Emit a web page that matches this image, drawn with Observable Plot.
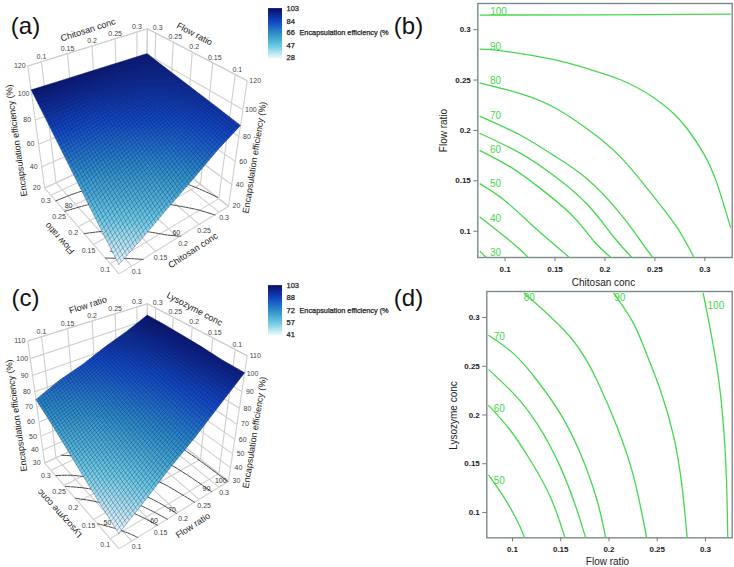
<!DOCTYPE html>
<html>
<head>
<meta charset="utf-8">
<script src="https://cdn.jsdelivr.net/npm/d3@7"></script>
<script src="https://cdn.jsdelivr.net/npm/@observablehq/plot@0.6"></script>
<style>
  body { margin: 0; background: white; }
  #fig { position: relative; width: 734px; height: 567px; overflow: hidden; }
  #fig svg { position: absolute; }
</style>
</head>
<body>
<div id="fig"></div>
<script>
// surface samples, rows = y factor, columns = x factor
const surfGrid = [0.075, 0.125, 0.175, 0.225, 0.275, 0.325];
const surfaceA = [
  [28.5, 40, 53, 65, 78, 88.5],
  [43, 55, 63, 73.5, 82.2, 91],
  [58, 66.5, 73.5, 81.5, 86.6, 93.3],
  [73, 78, 83.5, 87.5, 91, 95.7],
  [88, 90, 92, 94, 96, 98],
  [103, 102.5, 102, 101.5, 101, 100.5]
];
const surfaceC = [
  [41, 52.5, 65, 76, 88.5, 100.8],
  [47.5, 57.7, 68.4, 79, 90, 101],
  [54.5, 63.3, 72.5, 82.3, 92, 102],
  [62, 68, 77, 85.5, 93.7, 102.5],
  [69, 74, 81.5, 88.7, 95.5, 103],
  [75, 81.5, 86, 92, 97, 103]
];

const axisTicks = [0.1, 0.15, 0.2, 0.25, 0.3];
const zTicksA = [20, 40, 60, 80, 100, 120];
const zTicksC = [30, 40, 50, 60, 70, 80, 90, 100, 110];
const legendA = [103, 84, 66, 47, 28];
const legendC = [103, 88, 72, 57, 41];
const palette = ['#0a1470', '#1248c4', '#2f90c8', '#6ccae2', '#f0f9fc'];

// contours of panel (b): chitosan conc, flow ratio
const b100 = [[0.075, 0.3145], [0.2, 0.3148], [0.3257, 0.3155]];
const b90 = [[0.075, 0.2808], [0.099, 0.2788], [0.149, 0.2702], [0.1823, 0.2613], [0.2157, 0.2503], [0.249, 0.2325], [0.269, 0.2166], [0.2823, 0.2017], [0.299, 0.1768], [0.3123, 0.147], [0.3257, 0.104]];
const b80 = [[0.075, 0.247], [0.116, 0.2364], [0.149, 0.223], [0.182, 0.2017], [0.2157, 0.1735], [0.249, 0.134], [0.272, 0.104], [0.289, 0.0742]];
const b70 = [[0.075, 0.214], [0.116, 0.195], [0.149, 0.175], [0.182, 0.152], [0.2157, 0.117], [0.236, 0.09], [0.2477, 0.0742]];
const b65 = [[0.075, 0.197], [0.116, 0.177], [0.149, 0.155], [0.182, 0.127], [0.209, 0.094], [0.2267, 0.0742]];
const b60 = [[0.075, 0.18], [0.1057, 0.1636], [0.132, 0.145], [0.1657, 0.117], [0.189, 0.09], [0.2057, 0.0742]];
const b50 = [[0.075, 0.147], [0.099, 0.131], [0.126, 0.107], [0.149, 0.087], [0.164, 0.0742]];
const b40 = [[0.075, 0.114], [0.092, 0.1007], [0.109, 0.087], [0.123, 0.0742]];
const b30 = [[0.075, 0.08], [0.081, 0.0742]];
const contoursB = [b100, b90, b80, b70, b65, b60, b50, b40, b30];
const labelsB = [[100, 0.0935, 0.318], [90, 0.0905, 0.2835], [80, 0.0905, 0.2495], [70, 0.0905, 0.215], [60, 0.0905, 0.181], [50, 0.0905, 0.147], [40, 0.0905, 0.112], [30, 0.0905, 0.0785]];

// contours of panel (d): flow ratio, lysozyme conc
const d100 = [[0.2976, 0.325], [0.3052, 0.2867], [0.3138, 0.2354], [0.319, 0.1841], [0.3218, 0.1328], [0.3231, 0.0747]];
const d90 = [[0.205, 0.325], [0.2257, 0.2935], [0.2396, 0.261], [0.2534, 0.2251], [0.2672, 0.1773], [0.2758, 0.126], [0.281, 0.0747]];
const d80 = [[0.1124, 0.325], [0.1601, 0.2798], [0.1877, 0.2354], [0.2085, 0.1875], [0.2257, 0.1362], [0.2389, 0.0747]];
const d70 = [[0.0755, 0.2815], [0.1014, 0.2627], [0.1256, 0.2354], [0.1497, 0.2012], [0.1705, 0.1602], [0.1877, 0.1123], [0.1964, 0.0747]];
const d65 = [[0.0755, 0.2463], [0.1014, 0.2217], [0.1256, 0.1909], [0.1497, 0.1465], [0.167, 0.102], [0.1756, 0.0747]];
const d60 = [[0.0755, 0.2097], [0.0979, 0.1841], [0.1187, 0.1533], [0.1394, 0.1157], [0.1542, 0.0747]];
const d50 = [[0.0755, 0.138], [0.091, 0.1157], [0.1048, 0.0918], [0.1124, 0.0747]];
const contoursD = [d100, d90, d80, d70, d65, d60, d50];
const labelsD = [[100, 0.3108, 0.3125], [90, 0.2113, 0.32], [80, 0.1174, 0.32], [70, 0.0863, 0.28], [60, 0.0863, 0.206], [50, 0.0863, 0.132]];

// contours repeated on the floor of the 3d boxes, and their small labels
const floorA = [b90, b80, b60, b40];
const floorC = contoursD;
const floorLabelsA = [[80, 0.0875, 0.255], [40, 0.095, 0.118], [60, 0.205, 0.085]];
const floorLabelsC = [[100, 0.315, 0.085], [90, 0.278, 0.085], [70, 0.195, 0.085], [60, 0.155, 0.085], [50, 0.09, 0.13]];

const MIN = 0.075, MAX = 0.325;
const fig = d3.select('#fig');
const FONT = 'Liberation Sans';
const GREEN = '#45d84f';

// perspective view of the unit cube, same camera for (a) and (c)
const cam = {theta: 37 * Math.PI / 180, phi: 35 * Math.PI / 180, D: 6.5, f: 464, cx: 134, cy: 140, sy: 1.05};
function project(u, v, w) {
  const X = 2 * u - 1, Y = 2 * v - 1, Z = 2 * w - 1;
  const xr = X * Math.cos(cam.theta) - Y * Math.sin(cam.theta);
  const h = X * Math.sin(cam.theta) + Y * Math.cos(cam.theta);
  const yv = Z * Math.cos(cam.phi) + h * Math.sin(cam.phi);
  const dist = cam.D + h * Math.cos(cam.phi) - Z * Math.sin(cam.phi);
  return [cam.cx + cam.f * xr / dist, cam.cy - cam.sy * cam.f * yv / dist];
}

const unit = t => (t - MIN) / (MAX - MIN);

const note = (t, px, py, o = {}) => Plot.text([t], {
  text: d => d, frameAnchor: 'top-left', dx: px, dy: py,
  textAnchor: 'middle', lineAnchor: 'middle', fontSize: 9, fill: '#222', ...o
});

// table lookup used only to lay the wire mesh on the surface
function zAt(table, u, v) {
  const n = surfGrid.length - 1;
  const i = Math.min(Math.floor(u * n), n - 1), j = Math.min(Math.floor(v * n), n - 1);
  const a = u * n - i, b = v * n - j;
  return (table[j][i] * (1 - a) + table[j][i + 1] * a) * (1 - b) + (table[j + 1][i] * (1 - a) + table[j + 1][i + 1] * a) * b;
}

function panel3d(cfg) {
  const {top, table, zTicks, legend, letter, xName, yName, floor, floorLabels, clipId} = cfg;
  const W = 400, H = 292;
  const zMin = zTicks[0], zMax = zTicks[zTicks.length - 1];
  const wOf = z => (z - zMin) / (zMax - zMin);
  const seg = (a, b) => { const p = project(...a), q = project(...b); return {x1: p[0], y1: p[1], x2: q[0], y2: q[1]}; };

  const grid = [];
  for (const t of [0, 1, ...axisTicks.map(unit)]) {
    grid.push(seg([t, 0, 0], [t, 1, 0]), seg([0, t, 0], [1, t, 0]));
    grid.push(seg([t, 1, 0], [t, 1, 1]), seg([1, t, 0], [1, t, 1]));
  }
  grid.push(seg([0, 1, 1], [1, 1, 1]), seg([1, 0, 1], [1, 1, 1]));
  for (const z of zTicks) grid.push(seg([0, 1, wOf(z)], [1, 1, wOf(z)]), seg([1, 0, wOf(z)], [1, 1, wOf(z)]));

  const floorLines = floor.flatMap((pts, k) => pts.map(([x, y]) => {
    const p = project(unit(x), unit(y), 0);
    return {k, px: p[0], py: p[1]};
  }));

  const samples = table.flatMap((row, j) => row.map((z, i) => {
    const p = project(unit(surfGrid[i]), unit(surfGrid[j]), wOf(z));
    return {px: p[0], py: p[1], z};
  }));

  const nMesh = 48;
  const meshLines = [];
  const steps = d3.range(0, 13).map(s => s / 12);
  for (let m = 0; m <= nMesh; m++) {
    const t = m / nMesh;
    for (const s of steps) {
      const p = project(t, s, wOf(zAt(table, t, s)));
      const q = project(s, t, wOf(zAt(table, s, t)));
      meshLines.push({k: 'u' + m, px: p[0], py: p[1]}, {k: 'v' + m, px: q[0], py: q[1]});
    }
  }

  const n = surfGrid.length - 1;
  const outline = [
    ...d3.range(0, n + 1).map(i => [i, 0]), ...d3.range(0, n + 1).map(j => [n, j]),
    ...d3.range(n, -1, -1).map(i => [i, n]), ...d3.range(n, -1, -1).map(j => [0, j])
  ].map(([i, j]) => project(unit(surfGrid[i]), unit(surfGrid[j]), wOf(table[j][i])));

  const colorDomain = legend.slice().reverse();
  const colorRange = palette.slice().reverse();

  const tickText = (rows, o) => Plot.text(rows, {x: d => d.p[0], y: d => d.p[1], text: d => d.t, fontSize: 7, fill: '#444', ...o});
  const chart = Plot.plot({
    width: W, height: H, margin: 0,
    x: {domain: [0, W], range: [0, W], axis: null},
    y: {domain: [0, H], range: [0, H], axis: null},
    color: {type: 'linear', domain: colorDomain, range: colorRange, clamp: true},
    style: {background: 'transparent', fontFamily: FONT},
    marks: [
      Plot.link(grid, {x1: 'x1', y1: 'y1', x2: 'x2', y2: 'y2', stroke: '#cfcfcf', strokeWidth: 1.1}),
      Plot.line(floorLines, {x: 'px', y: 'py', z: 'k', stroke: '#333', strokeWidth: 0.9, strokeDasharray: '5 1', curve: 'catmull-rom'}),
      Plot.text(floorLabels, {x: d => project(unit(d[1]), unit(d[2]), 0)[0], y: d => project(unit(d[1]), unit(d[2]), 0)[1], text: d => d[0], fontSize: 7, fill: '#333'}),
      Plot.raster(samples, {x: 'px', y: 'py', fill: 'z', interpolate: 'barycentric', pixelSize: 1}),
      Plot.line(meshLines, {x: 'px', y: 'py', z: 'k', stroke: '#0c1a50', strokeWidth: 0.55, strokeOpacity: 0.55}),
      tickText(axisTicks.map(t => ({t, p: project(unit(t), 1, 1)})), {dy: -5}),
      tickText(axisTicks.map(t => ({t, p: project(1, unit(t), 1)})), {dy: -5, dx: 2}),
      tickText(axisTicks.map(t => ({t, p: project(0, unit(t), 0)})), {dy: 6, dx: -5}),
      tickText(axisTicks.map(t => ({t, p: project(unit(t), 0, 0)})), {dy: 6, dx: 5}),
      tickText(zTicks.map(t => ({t, p: project(0, 1, wOf(t))})), {dx: -8}),
      tickText(zTicks.map(t => ({t, p: project(1, 0, wOf(t))})), {dx: 8}),
      note(letter, 25, top ? 23 : 26, {fontSize: 24, fill: '#111'}),
      note(xName, 87.5, 29.5, {rotate: -18}),
      note(yName, 194, 33.5, {rotate: 28}),
      note('Encapsulation efficiency (%)', 16, 140, {rotate: -98}),
      note('Encapsulation efficiency (%)', 254, 157, {rotate: -81}),
      note(yName, 59, 238, {rotate: -132}),
      note(xName, 192.5, 250, {rotate: -33})
    ]
  });
  const svg = d3.select(chart).style('left', '0px').style('top', top + 'px');
  svg.append('clipPath').attr('id', clipId).append('polygon').attr('points', outline.map(p => p.join(',')).join(' '));
  svg.select('image').attr('clip-path', `url(#${clipId})`);
  fig.append(() => chart);

  // colour key
  const key = Plot.plot({
    width: 135, height: 66, marginLeft: 8, marginRight: 113, marginTop: 8.3, marginBottom: 8.7,
    x: {axis: null},
    y: {domain: [legend[4], legend[0]], axis: null},
    color: {type: 'linear', domain: colorDomain, range: colorRange},
    style: {background: 'transparent', fontFamily: FONT},
    marks: [
      Plot.ruleY(d3.range(legend[4], legend[0] + 0.5, 0.5), {y: d => d, stroke: d => d, strokeWidth: 1.2}),
      Plot.text(legend, {y: d => d, text: d => d, frameAnchor: 'left', dx: 18, textAnchor: 'start', fontSize: 7.5, fill: '#222', stroke: '#222', strokeWidth: 0.25}),
      Plot.text(['Encapsulation efficiency (%'], {y: () => legend[2], text: d => d, frameAnchor: 'left', dx: 31, textAnchor: 'start', fontSize: 7.3, fill: '#222', stroke: '#222', strokeWidth: 0.25})
    ]
  });
  d3.select(key).style('left', '260px').style('top', (top ? top + 2 : 0) + 'px');
  fig.append(() => key);
}

function panel2d(cfg) {
  const {left, top, width, height, ml, mt, mb, xd, yd, lines, labels, xName, yName, letter, xLabelPos, yLabelPos, letterPos} = cfg;
  const rows = lines.flatMap((pts, k) => pts.map(([x, y]) => ({k, x, y})));
  const chart = Plot.plot({
    width, height, marginLeft: ml, marginRight: 2.3, marginTop: mt, marginBottom: mb,
    x: {domain: xd},
    y: {domain: yd},
    style: {background: 'transparent', fontFamily: FONT},
    marks: [
      Plot.frame({stroke: '#7d8a8a', strokeWidth: 1.4}),
      Plot.axisX(axisTicks, {tickSize: 4, tickPadding: 5, tickFormat: d => String(d), fontSize: 8, fontWeight: 'bold', stroke: '#777', fill: '#222', label: null}),
      Plot.axisY(axisTicks, {tickSize: 4, tickPadding: 3, tickFormat: d => String(d), fontSize: 8, fontWeight: 'bold', stroke: '#777', fill: '#222', label: null}),
      Plot.line(rows, {x: 'x', y: 'y', z: 'k', stroke: GREEN, strokeWidth: 1.3, curve: 'natural'}),
      Plot.text(labels, {x: d => d[1], y: d => d[2], text: d => d[0], fill: GREEN, fontSize: 10}),
      note(xName, xLabelPos[0] - left - ml, xLabelPos[1] - top - mt, {fontSize: 10}),
      note(yName, yLabelPos[0] - left - ml, yLabelPos[1] - top - mt, {fontSize: 10, rotate: -90}),
      note(letter, letterPos[0] - left - ml, letterPos[1] - top - mt, {fontSize: 24, fill: '#111'})
    ]
  });
  d3.select(chart).style('left', left + 'px').style('top', top + 'px');
  fig.append(() => chart);
}

panel3d({top: 0, table: surfaceA, zTicks: zTicksA, legend: legendA, letter: '(a)', xName: 'Chitosan conc', yName: 'Flow ratio', floor: floorA, floorLabels: floorLabelsA, clipId: 'clipA'});
panel3d({top: 275, table: surfaceC, zTicks: zTicksC, legend: legendC, letter: '(c)', xName: 'Flow ratio', yName: 'Lysozyme conc', floor: floorC, floorLabels: floorLabelsC, clipId: 'clipC'});

panel2d({left: 385, top: 0, width: 349, height: 290, ml: 92.3, mt: 3, mb: 33, xd: [0.0727, 0.3274], yd: [0.0739, 0.326], lines: contoursB, labels: labelsB, xName: 'Chitosan conc', yName: 'Flow ratio', letter: '(b)', xLabelPos: [603, 282], yLabelPos: [443, 130], letterPos: [408, 26]});
panel2d({left: 385, top: 280, width: 349, height: 287, ml: 101.3, mt: 11, mb: 29.7, xd: [0.0734, 0.3277], yd: [0.074, 0.3267], lines: contoursD, labels: labelsD, xName: 'Flow ratio', yName: 'Lysozyme conc', letter: '(d)', xLabelPos: [607, 561], yLabelPos: [453, 415], letterPos: [408, 298]});
</script>
</body>
</html>
